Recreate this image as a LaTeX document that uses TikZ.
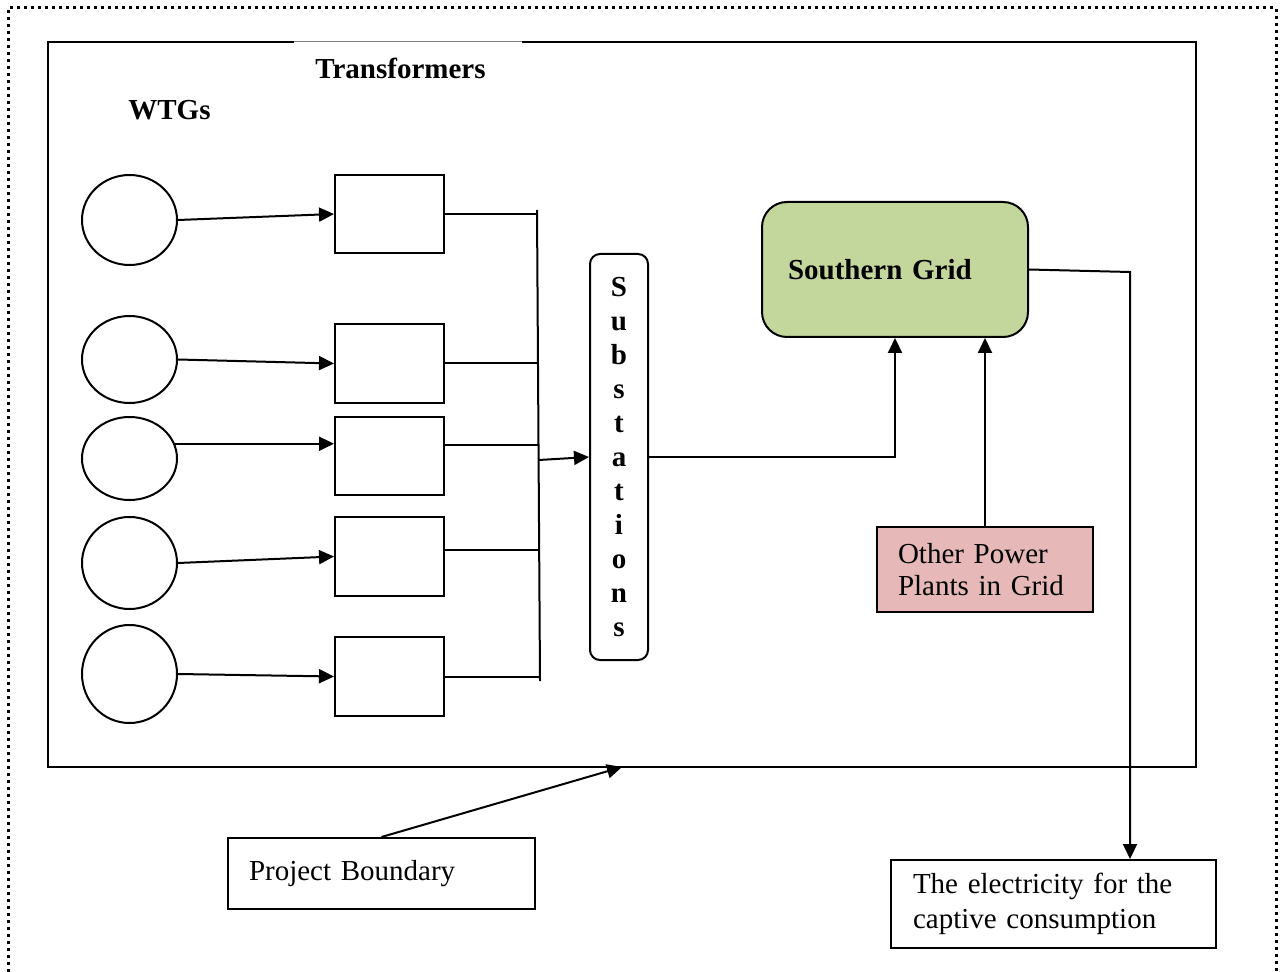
\documentclass[tikz,border=0pt]{standalone}
\usepackage{fontspec}
\setmainfont{Liberation Serif}
\usetikzlibrary{arrows.meta,shapes.geometric}
\definecolor{gridgreen}{HTML}{C3D69B}
\definecolor{plantpink}{HTML}{E6B8B7}
\begin{document}
\begin{tikzpicture}[x=0.5pt,y=-0.5pt,
  every node/.style={inner sep=0pt},
  wire/.style={line width=1pt},
  arrowline/.style={line width=1pt,-{Triangle[length=7.5pt,width=7pt]}},
  wtg/.style={draw,line width=1pt,ellipse,minimum width=47.5pt},
  trf/.style={draw,line width=1pt,rectangle,minimum width=54.5pt,minimum height=39pt},
  textbox/.style={draw,line width=1pt,rectangle,align=left,font=\fontsize{14.5}{16}\selectfont},
  boldtext/.style={font=\fontsize{14.5}{16}\selectfont\bfseries,anchor=base west},
  dotframe/.style={line width=1.5pt,dash pattern=on 1.5pt off 2pt},
]
\useasboundingbox (0,0) rectangle (1283,972);

% outer dotted frame
\draw[dotframe] (8,972) -- (8,8) -- (1276,8) -- (1276,972);

% project boundary
\draw[wire] (294,42) -- (48,42) -- (48,767) -- (1196,767) -- (1196,42) -- (522,42);
\draw[line width=0.5pt,gray] (294,42) -- (522,42);
\coordinate (pbtarget) at (622,767);

% headings
\node[boldtext] (trlabel) at (315,79) {Transformers};
\node[boldtext] (wtglabel) at (128,120) {WTGs};

% wind turbine generators
\node[wtg,minimum height=45pt]   (w1) at (129.5,220) {};
\node[wtg,minimum height=43.5pt] (w2) at (129.5,359.5) {};
\node[wtg,minimum height=41.5pt] (w3) at (129.5,458.5) {};
\node[wtg,minimum height=46pt]   (w4) at (129.5,563) {};
\node[wtg,minimum height=49pt]   (w5) at (129.5,674) {};

% transformers
\node[trf] (t1) at (389.5,214) {};
\node[trf,minimum height=39.5pt] (t2) at (389.5,363.5) {};
\node[trf] (t3) at (389.5,456) {};
\node[trf,minimum height=39.5pt] (t4) at (389.5,556.5) {};
\node[trf,minimum height=39.5pt] (t5) at (389.5,676.5) {};

\draw[arrowline] (w1.east) -- (t1.west);
\draw[arrowline] (w2.east) -- (t2.west);
\draw[arrowline] (w3.18) -- (w3.18 -| t3.west);
\draw[arrowline] (w4.east) -- (t4.west);
\draw[arrowline] (w5.east) -- (t5.west);

% collecting bus
\coordinate (bustop) at (537,210);
\coordinate (busbot) at (540,681);
\coordinate (busmid) at (539,460);
\draw[wire] (bustop) -- (busbot);
\coordinate (t3out) at ([yshift=5.5pt]t3.east);
\coordinate (t4out) at ([yshift=3.25pt]t4.east);
\draw[wire] (t1.east) -- (t1.east -| bustop);
\draw[wire] (t2.east) -- (t2.east -| bustop);
\draw[wire] (t3out) -- (t3out -| busmid);
\draw[wire] (t4out) -- (t4out -| busmid);
\draw[wire] (t5.east) -- (t5.east -| busbot);

% substations
\node[draw,line width=1pt,rounded corners=5pt,minimum width=29pt,minimum height=203pt,
      align=center,font=\fontsize{14.5}{17}\selectfont\bfseries] (sub) at (619,457)
      {S\\u\\b\\s\\t\\a\\t\\i\\o\\n\\s};
\draw[arrowline] (busmid) -- (sub.west);

% southern grid
\node[draw,line width=1pt,fill=gridgreen,rounded corners=12.5pt,text width=107pt,
      inner xsep=13pt,minimum height=67.5pt,align=left,
      font=\fontsize{14.5}{16}\selectfont\bfseries] (sg) at (895,269.5) {Southern Grid};
\draw[arrowline] (sub.east) -- (sub.east -| sg.south) -- (sg.south);

% other power plants
\node[textbox,fill=plantpink,text width=87pt,inner xsep=10.5pt,minimum height=42.5pt] (opp) at (985,569.5)
      {Other Power\\Plants in Grid};
\draw[arrowline] (opp.north) -- (opp.north |- sg.south);

% captive consumption
\node[textbox,text width=140.5pt,inner xsep=11pt,minimum height=44pt,
      font=\fontsize{14.5}{17.5}\selectfont] (elec) at (1053.5,904)
      {The electricity for the\\captive consumption};
\coordinate (gridbend) at (1130,272);
\draw[arrowline] (sg.east) -- (gridbend) -- (gridbend |- elec.north);

% project boundary label
\node[textbox,text width=132.5pt,inner xsep=10.5pt,minimum height=35.5pt] (pb) at (381.5,873.5)
      {Project Boundary};
\draw[arrowline] (pb.north) -- (pbtarget);
\end{tikzpicture}
\end{document}
